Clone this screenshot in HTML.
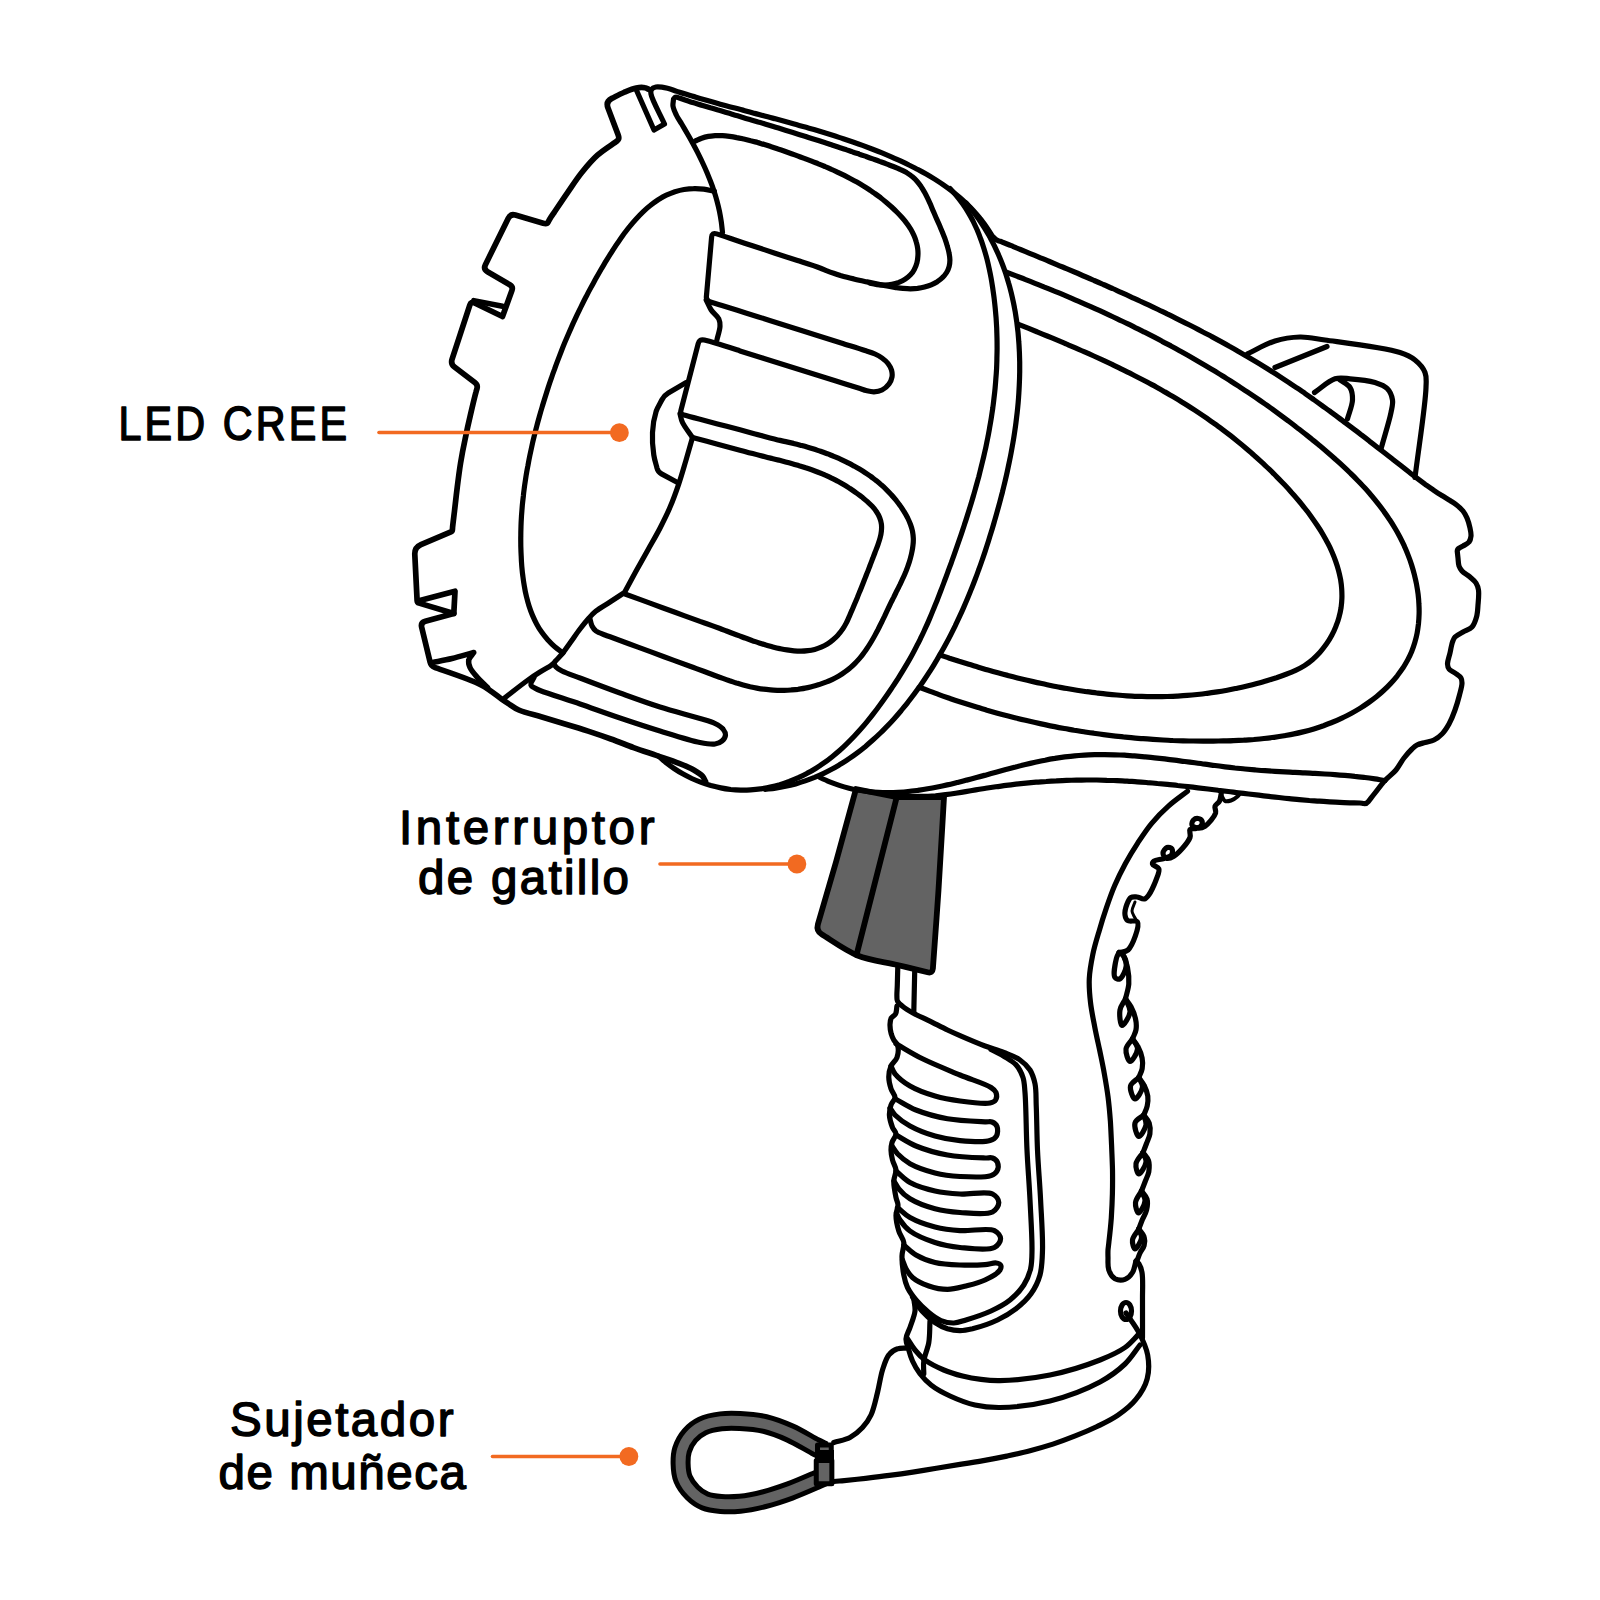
<!DOCTYPE html>
<html lang="es"><head><meta charset="utf-8"><title>Linterna recargable</title>
<style>
html,body{margin:0;padding:0;background:#fff}
body{width:1600px;height:1600px;overflow:hidden}
svg{display:block}
text{font-family:"Liberation Sans",sans-serif;fill:#000}
</style></head><body>
<svg width="1600" height="1600" viewBox="0 0 1600 1600">
<rect width="1600" height="1600" fill="#fff"/>
<g fill="none" stroke="#000" stroke-width="5.2" stroke-linecap="round" stroke-linejoin="round">
<path d="M856 789L896 797L944 797C942.2 828 940.4 860.3 938.5 890C936.7 917.3 933.6 958 932.9 968.5Q932.5 973.5 927.6 972.3C921.9 970.9 908.3 967.6 897.5 965C885.1 962 870.1 960.6 857.5 955.5C844.9 950.4 828.9 938.6 822 934.6Q816 931 817.9 924.3L836 862Z" fill="#636363" stroke="#000" stroke-width="5.8"/>
<path d="M896.5 798L856.5 955" fill="none" stroke="#000" stroke-width="5.8"/>
<path d="M648.8 89.4C647.5 88.8 646.6 88.1 645 87.8C642.7 87.3 639.4 87.4 636.2 88C632.4 88.7 627.8 90.8 623.8 92.5C619.7 94.2 615.1 96.8 611.8 98.4Q605.5 101.5 608 108L618.1 134.8Q619.5 138.5 618.2 139.8C617.8 140.2 617.7 140.4 617 141C614.4 143.2 603.4 149.8 597.5 155.2C591.5 160.5 586.4 166.8 581.4 173C576.4 179.3 572 186.2 567.4 192.8C562.8 199.4 557.2 207.9 553.9 212.8C552 215.6 550.5 217.8 549.5 219.5C548.9 220.5 548.7 221.1 548.2 221.9Q547 224.3 543.2 223.2L515.3 215.1Q510.5 213.7 508.3 218.2L485.4 264.7Q483.2 269.2 487.5 271.7L509.8 284.8Q513.3 286.8 511.9 290.6L502.5 316.5L474.6 303Q471 301.3 469.8 305.1L452.1 359.2Q450.5 364 454.5 367L474.8 382.6Q478 385 477 388.5C476.7 389.7 476.4 390.3 476 392C474.8 396.4 472.1 407.7 470.3 415.5C468.4 423.4 466.7 431.3 465.1 439.2C463.4 447.1 461.9 455 460.6 462.9C459.3 470.9 458.3 478.9 457.3 486.9C456.3 494.9 455.3 503.8 454.5 511C453.8 516.9 452.9 523.9 452.6 527C452.5 528.3 452.5 528.9 452.4 529.7Q452.3 531.2 450.9 531.8L420.9 544.6Q414.5 547.4 414.8 554.4L417.1 600.5Q417.2 602.5 419.1 603.1L453.8 613.5L425.3 621.2Q420.5 622.5 421.7 627.4L430.1 662.1Q431 666 434.7 667.4C441.6 670 469.2 678.7 481.2 685C489.8 689.5 497.8 696.5 501.7 699.2Q505 701.5 508.4 703.6C510.9 705.2 514.5 708.1 518.8 710C524.8 712.7 534.2 714.7 541.9 717C549.6 719.3 557.3 721.6 565 724C572.7 726.3 580.4 728.6 588.1 731.1C595.7 733.6 603.3 736.2 610.9 739C618.5 741.7 625.9 744.8 633.5 747.6C641 750.3 648.7 752.8 656.3 755.4C663.9 758 672.4 760.7 679.1 763.3C684.6 765.5 689.6 767.6 693.8 770C697.2 772 700.5 774 702.5 776.2C704 777.9 704.5 779.8 705.5 781.5" fill="none" stroke="#000" stroke-width="5.7"/>
<path d="M473.8 300.6L502.5 306.2" fill="none" stroke="#000" stroke-width="5.5"/>
<path d="M418 601L455 591.2L453.8 613.5" fill="none" stroke="#000" stroke-width="5.7"/>
<path d="M432.5 662.5C439 661.2 445.3 660.1 452 658.5C459.1 656.8 466.5 654.5 473.8 652.5C472.1 655 469.3 657.4 468.8 660C468.2 662.4 468.9 665 470 667.5C471.4 670.8 474.7 674.3 477.5 677.5C480.5 680.9 484.2 684.2 487.5 687.5" fill="none" stroke="#000" stroke-width="5.5"/>
<path d="M636.8 91L654 130L664.5 124C660 114 651.9 99.7 651 94C650.7 91.9 650.7 90.7 651.5 89.5C652.3 88.3 654.1 87.4 656 87C658.9 86.4 663.9 87.5 667.5 88.3C670.8 89 673.8 90.4 676.9 91.4C680.1 92.4 683.2 93.4 686.4 94.3C689.6 95.3 692.8 96.3 696 97.2C699.2 98.2 702.4 99.1 705.6 100C708.9 101 712.1 101.9 715.4 102.8C718.6 103.7 721.9 104.6 725.1 105.5C728.4 106.4 731.7 107.2 734.9 108.1C738.2 109 741.5 109.9 744.8 110.7C748.1 111.6 751.4 112.5 754.7 113.4C758 114.2 761.3 115.1 764.6 116C767.9 116.9 771.2 117.8 774.5 118.6C777.8 119.5 781.1 120.4 784.4 121.3C787.7 122.2 791 123.1 794.2 124C797.5 124.9 800.8 125.9 804.1 126.8C807.4 127.7 810.7 128.7 814 129.6C817.2 130.6 820.5 131.6 823.8 132.6C827 133.6 830.3 134.6 833.5 135.6C836.8 136.6 840 137.7 843.2 138.7C846.5 139.8 849.7 140.9 852.9 142C856.1 143.1 859.3 144.2 862.5 145.4C865.6 146.6 868.8 147.8 872 149C875.1 150.2 878.2 151.4 881.4 152.7C884.5 154 887.6 155.3 890.7 156.6C893.7 157.9 896.8 159.3 899.9 160.7C902.9 162.1 905.9 163.5 908.9 165C911.9 166.4 914.9 168 917.9 169.5C920.8 171.1 923.7 172.7 926.6 174.3C929.5 176 932.3 177.7 935.1 179.4C937.9 181.2 940.7 183 943.4 184.9C946.1 186.8 948.8 188.7 951.4 190.7C954.1 192.7 956.6 194.8 959.2 197C961.7 199.1 964.1 201.4 966.5 203.7C968.9 206 971.3 208.4 973.5 210.8C975.8 213.3 978 215.9 980.1 218.5C982.3 221.1 984.3 223.9 986.3 226.7C988.3 229.6 990.5 233.6 992 235.5C992.8 236.5 993.3 237 994 237.8Q996 240 998.8 240.9C999.9 241.3 1000.7 241.5 1002 242C1004.3 242.8 1008.1 244.5 1011.2 245.7C1014.3 247 1017.3 248.3 1020.4 249.5C1023.5 250.8 1026.5 252 1029.6 253.3C1032.7 254.6 1035.7 255.8 1038.8 257.1C1041.9 258.4 1045 259.6 1048 260.9C1051.1 262.2 1054.2 263.5 1057.3 264.8C1060.3 266.1 1063.4 267.3 1066.5 268.6C1069.5 269.9 1072.6 271.2 1075.7 272.5C1078.8 273.8 1081.8 275.2 1084.9 276.5C1088 277.8 1091 279.1 1094.1 280.5C1097.2 281.8 1100.2 283.1 1103.3 284.5C1106.4 285.8 1109.4 287.2 1112.5 288.5C1115.5 289.9 1118.6 291.2 1121.6 292.6C1124.7 294 1127.7 295.4 1130.8 296.8C1133.8 298.2 1136.9 299.5 1139.9 301C1142.9 302.4 1146 303.8 1149 305.2C1152 306.6 1155.1 308.1 1158.1 309.5C1161.1 311 1164.1 312.4 1167.1 313.9C1170.1 315.3 1173.1 316.8 1176.1 318.3C1179.1 319.8 1182.1 321.3 1185.1 322.8C1188.1 324.3 1191 325.8 1194 327.3C1197 328.9 1199.9 330.4 1202.9 332C1205.9 333.5 1208.8 335.1 1211.8 336.6C1214.7 338.2 1217.6 339.8 1220.6 341.4C1223.5 343 1226.4 344.6 1229.3 346.3C1232.2 347.9 1235.1 349.5 1238 351.2C1240.9 352.9 1243.8 354.5 1246.7 356.2C1249.5 357.9 1252.4 359.6 1255.2 361.3C1258.1 363 1260.9 364.7 1263.8 366.5C1266.6 368.2 1269.4 370 1272.2 371.8C1275.1 373.5 1277.9 375.3 1280.6 377.1C1283.4 379 1286.2 380.8 1289 382.6C1291.7 384.5 1294.5 386.3 1297.3 388.2C1300 390 1302.7 391.9 1305.5 393.8C1308.2 395.7 1310.9 397.6 1313.6 399.5C1316.3 401.5 1319 403.4 1321.7 405.3C1324.4 407.3 1327.1 409.2 1329.8 411.2C1332.5 413.2 1335.2 415.1 1337.8 417.1C1340.5 419.1 1343.2 421.1 1345.8 423.1C1348.5 425.1 1351.1 427.1 1353.8 429.1C1356.4 431.1 1359.1 433.1 1361.7 435.2C1364.4 437.2 1367 439.2 1369.6 441.3C1372.3 443.3 1374.9 445.3 1377.5 447.4C1380.1 449.4 1382.8 451.5 1385.4 453.5C1388 455.6 1390.6 457.6 1393.3 459.7C1395.9 461.7 1398.5 463.8 1401.1 465.8C1403.7 467.9 1406.4 470 1409 472C1411.6 474 1414.2 476.1 1416.9 478.1C1419.6 480.1 1422.2 482.1 1424.9 484.1C1427.6 486 1430.3 488 1433.1 489.8C1435.8 491.7 1438.6 493.6 1441.4 495.3C1444.2 497.1 1447.4 498.9 1450 500.5C1452.2 501.9 1454 502.9 1456 504.5C1458.3 506.3 1461.1 508.6 1463 511C1464.7 513.2 1465.9 515.4 1467 518C1468.3 521 1469.3 524.8 1470 528C1470.6 530.8 1471.2 533.5 1471 536C1470.8 538.2 1470.3 540.4 1469 542C1467.7 543.7 1464.8 544.9 1463 546C1461.6 546.8 1460.3 547.5 1459.2 548.1Q1457 549.3 1457.3 551.8C1457.5 553.4 1457.7 555.8 1458 558C1458.3 560.5 1458.2 563.7 1459 566C1459.7 567.9 1460.6 569.4 1462 571C1463.9 573.1 1467.6 574.9 1470 577C1472.2 578.9 1474.6 580.7 1476 583C1477.3 585.1 1478.1 587.2 1478.5 590C1479.1 594 1478.4 600.3 1478 605C1477.7 609.2 1477.6 613.3 1476.5 617C1475.5 620.6 1474.3 624.5 1472 627C1469.8 629.4 1465.9 630.3 1463 632C1460.2 633.6 1456.8 635.1 1455 637C1453.6 638.5 1453.2 640 1452.5 642C1451.5 644.9 1450.8 649.3 1450 653C1449.2 656.7 1447.4 661.1 1447.5 664C1447.6 666 1447.9 667.6 1449 669C1450.2 670.7 1453 671.5 1455 673C1457 674.5 1459.9 676.1 1461 678C1461.9 679.5 1462 681 1462 683C1462 686.1 1460.6 690.8 1459.5 695C1458.3 699.7 1456.8 705.1 1455 710C1453.3 714.8 1451.3 719.8 1449 724C1446.9 727.7 1444.7 731.3 1442 734C1439.6 736.5 1436.9 738.6 1434 740C1431.2 741.4 1427.9 741.6 1425 742.5C1422.2 743.3 1419.3 743.8 1417 745C1415 746.1 1413.8 747.3 1412 749C1409.6 751.3 1406.6 754.7 1404 758C1401.2 761.6 1399.1 766.3 1396 770C1392.8 773.8 1388.5 776.7 1385 780.5C1381.4 784.4 1378 789.2 1375 793C1372.5 796.1 1369.9 799.6 1368.3 801.6Q1366.5 804 1363.5 803.5C1362.4 803.4 1361.5 803.1 1360 803C1357.5 802.8 1353.2 802.9 1349.9 802.8C1346.5 802.7 1343.1 802.6 1339.7 802.4C1336.4 802.3 1333 802.1 1329.6 801.9C1326.2 801.7 1322.8 801.5 1319.5 801.2C1316.1 801 1312.7 800.7 1309.3 800.5C1306 800.2 1302.6 799.9 1299.2 799.6C1295.8 799.3 1292.4 798.9 1289.1 798.6C1285.7 798.3 1282.3 797.9 1278.9 797.5C1275.6 797.2 1272.2 796.8 1268.8 796.4C1265.4 796 1262.1 795.6 1258.7 795.2C1255.3 794.8 1251.9 794.4 1248.6 794C1245.2 793.6 1241.8 793.2 1238.4 792.8C1235 792.4 1231.7 791.9 1228.3 791.5C1224.9 791.1 1221.5 790.7 1218.2 790.3C1214.8 789.8 1211.4 789.4 1208 789C1204.7 788.6 1201.3 788.2 1197.9 787.8C1194.5 787.4 1191.2 787 1187.8 786.6C1184.4 786.2 1181 785.8 1177.7 785.5C1174.3 785.1 1170.9 784.8 1167.5 784.4C1164.2 784.1 1160.8 783.8 1157.4 783.5C1154.1 783.1 1150.7 782.8 1147.3 782.6C1143.9 782.3 1140.6 782 1137.2 781.8C1133.8 781.6 1130.4 781.3 1127.1 781.1C1123.7 780.9 1120.3 780.8 1117 780.6C1113.6 780.5 1110.2 780.3 1106.8 780.3C1103.5 780.2 1100.1 780.1 1096.7 780C1093.4 780 1090 780 1086.6 780C1083.2 780 1079.9 780.1 1076.5 780.1C1073.1 780.2 1069.8 780.3 1066.4 780.4C1063 780.5 1059.7 780.7 1056.3 780.9C1052.9 781 1049.6 781.2 1046.2 781.5C1042.8 781.7 1039.5 782 1036.1 782.2C1032.7 782.5 1029.4 782.8 1026 783.1C1022.6 783.5 1019.3 783.8 1015.9 784.2C1012.6 784.6 1009.2 785 1005.9 785.4C1002.5 785.9 999.1 786.3 995.8 786.8C992.4 787.3 989.1 787.8 985.7 788.3C982.4 788.8 979 789.3 975.7 789.9C972.3 790.5 969 791 965.6 791.6C962.3 792.2 959 792.7 955.6 793.2C952.3 793.8 948.9 794.3 945.5 794.7C942.2 795.1 938.8 795.5 935.5 795.8C932.1 796 928.7 796.3 925.4 796.4C922 796.4 918.6 796.5 915.2 796.3C911.8 796.2 908.4 795.8 905 795.5" fill="none" stroke="#000" stroke-width="5.2"/>
<path d="M1385 780.5C1381.6 780 1378.3 779.4 1374.9 778.9C1371.6 778.4 1368.2 777.9 1364.9 777.5C1361.5 777.1 1358.2 776.7 1354.8 776.4C1351.5 776 1348.2 775.7 1344.8 775.4C1341.5 775.2 1338.1 774.9 1334.8 774.7C1331.5 774.4 1328.2 774.2 1324.8 774C1321.5 773.8 1318.2 773.6 1314.9 773.4C1311.5 773.2 1308.2 773.1 1304.9 772.9C1301.6 772.7 1298.3 772.6 1294.9 772.4C1291.6 772.2 1288.3 772.1 1285 771.9C1281.6 771.7 1278.3 771.5 1275 771.3C1271.7 771.1 1268.4 770.9 1265 770.7C1261.7 770.5 1258.4 770.2 1255 769.9C1251.7 769.6 1248.4 769.3 1245 769C1241.7 768.7 1238.4 768.3 1235 768C1231.7 767.6 1228.3 767.2 1225 766.8C1221.6 766.4 1218.3 766 1215 765.5C1211.6 765.1 1208.3 764.6 1204.9 764.2C1201.6 763.8 1198.2 763.3 1194.8 762.8C1191.5 762.4 1188.1 761.9 1184.8 761.5C1181.4 761.1 1178.1 760.6 1174.7 760.2C1171.4 759.8 1168 759.3 1164.7 758.9C1161.3 758.5 1158 758.2 1154.6 757.8C1151.3 757.4 1147.9 757.1 1144.6 756.8C1141.2 756.5 1137.9 756.2 1134.5 755.9C1131.2 755.7 1127.9 755.4 1124.5 755.2C1121.2 755.1 1117.9 754.9 1114.5 754.8C1111.2 754.7 1107.9 754.6 1104.5 754.6C1101.2 754.6 1097.9 754.6 1094.6 754.7C1091.2 754.8 1087.9 754.9 1084.6 755.1C1081.3 755.3 1078 755.5 1074.7 755.8C1071.4 756.1 1068.1 756.5 1064.8 756.9C1061.5 757.3 1058.2 757.8 1054.9 758.4C1051.6 758.9 1048.3 759.5 1045.1 760.2C1041.8 760.8 1038.5 761.5 1035.2 762.2C1031.9 763 1028.7 763.7 1025.4 764.5C1022.1 765.3 1018.9 766.1 1015.6 767C1012.3 767.8 1009.1 768.7 1005.8 769.5C1002.6 770.4 999.3 771.3 996 772.2C992.8 773.1 989.5 774 986.3 774.9C983 775.8 979.8 776.7 976.5 777.5C973.3 778.4 970 779.3 966.7 780.1C963.5 781 960.2 781.8 957 782.6C953.7 783.4 950.5 784.2 947.2 784.9C943.9 785.6 940.7 786.3 937.4 787C934.1 787.7 930.9 788.3 927.6 788.8C924.3 789.4 921.1 789.9 917.8 790.4C914.5 790.8 911.3 791.2 908 791.5C904.7 791.9 901.4 792.1 898.1 792.3C894.9 792.5 891.6 792.6 888.3 792.6C885 792.6 881.7 792.6 878.5 792.4C875.2 792.2 871.9 792 868.7 791.6C865.4 791.3 862.1 790.8 858.9 790.2C855.6 789.7 852.3 789 849.1 788.2C845.8 787.4 842.6 786.5 839.3 785.4C836.1 784.3 832.9 783.2 829.7 781.9C826.4 780.5 823.2 779 820 777.5" fill="none" stroke="#000" stroke-width="5.2"/>
<path d="M722.5 232.5C722.1 229 721.8 225.4 721.3 221.9C720.8 218.4 720.2 214.9 719.5 211.4C718.8 208 717.9 204.5 717 201.1C716.1 197.7 715.1 194.3 714 191C712.9 187.6 711.7 184.3 710.4 181C709.1 177.7 707.8 174.4 706.4 171.2C705 167.9 703.5 164.7 702 161.5C700.5 158.3 698.9 155.1 697.3 151.9C695.7 148.7 694 145.6 692.3 142.5C690.6 139.4 688.8 136.3 687.1 133.2C685.3 130.1 683.5 127.1 681.7 124C679.9 121 677.7 118.1 676.3 115C674.9 112.1 673.4 108.8 673 106.2C672.7 104.3 673.2 102.7 673.3 101Q673.5 96 678.2 97.6C681.3 98.7 686.6 100.6 690 101.7C692.6 102.5 694.5 103 696.8 103.7C699 104.4 701.3 105.1 703.6 105.7C705.8 106.4 708.1 107.1 710.4 107.8C712.6 108.4 714.9 109.1 717.2 109.8C719.4 110.4 721.7 111.1 724 111.8C726.3 112.5 728.5 113.1 730.8 113.8C733.1 114.5 735.3 115.2 737.6 115.8C739.9 116.5 742.2 117.2 744.4 117.9C746.7 118.6 749 119.2 751.3 119.9C753.5 120.6 755.8 121.3 758.1 122C760.4 122.6 762.6 123.3 764.9 124C767.2 124.7 769.5 125.4 771.7 126.1C774 126.8 776.3 127.5 778.5 128.1C780.8 128.8 783.1 129.5 785.3 130.2C787.6 130.9 789.9 131.6 792.1 132.3C794.4 133 796.7 133.7 798.9 134.4C801.2 135.1 803.4 135.8 805.7 136.5C807.9 137.3 810.2 138 812.5 138.7C814.7 139.4 817 140.1 819.2 140.8C821.4 141.6 823.7 142.3 825.9 143C828.2 143.7 830.4 144.5 832.6 145.2C834.9 145.9 837.1 146.7 839.3 147.4C841.6 148.1 843.8 148.9 846 149.6C848.2 150.4 850.5 151.1 852.7 151.9C854.9 152.6 857.1 153.4 859.4 154.2C861.6 154.9 863.8 155.7 866.1 156.5C868.3 157.3 870.5 158.1 872.8 158.9C875 159.7 877.3 160.5 879.6 161.4C881.8 162.2 884.1 163 886.4 163.9C888.7 164.8 891 165.6 893.3 166.5C895.6 167.4 897.9 168.3 900.1 169.4C902.3 170.4 904.5 171.4 906.6 172.6C908.5 173.8 910.5 175.1 912.2 176.6C913.9 178 915.5 179.6 917 181.3C918.5 183 919.8 184.8 921.1 186.6C922.4 188.5 923.5 190.5 924.7 192.5C925.8 194.5 926.8 196.6 927.8 198.7C928.8 200.9 929.8 203 930.8 205.2C931.7 207.4 932.6 209.7 933.6 211.9C934.6 214.1 935.5 216.4 936.5 218.6C937.5 220.8 938.5 223 939.5 225.3C940.4 227.5 941.4 229.8 942.3 232C943.2 234.3 944.1 236.6 945 238.8C945.8 241.1 946.6 243.5 947.2 245.8C947.9 248.2 948.6 250.5 949 252.9C949.5 255.3 949.9 257.7 949.9 260C949.9 262.3 949.7 264.6 949.1 266.7C948.6 268.7 947.7 270.7 946.6 272.5C945.5 274.3 944.1 276 942.5 277.5C941 279.1 939.2 280.4 937.3 281.7C935.4 282.9 933.3 284 931.2 284.9C929 285.8 926.8 286.5 924.5 287.1C922.2 287.7 919.9 288.1 917.5 288.4C915.1 288.6 912.7 288.7 910.3 288.8C907.9 288.8 905.5 288.6 903.1 288.4C900.6 288.2 898.2 287.9 895.7 287.6C893.3 287.2 890.8 286.8 888.4 286.3C886 285.9 883.6 285.4 881.2 284.9C878.8 284.4 876.4 283.9 874.1 283.4C871.7 282.9 869.4 282.4 867.1 281.9C864.9 281.4 862.6 281 860.4 280.5C858.1 280 855.9 279.5 853.7 278.9C851.5 278.4 849.3 277.9 847.1 277.3C844.9 276.7 842.6 276.1 840.4 275.5C838.2 274.8 836 274.1 833.7 273.3C831.5 272.6 829.2 271.8 827 270.9C824.6 270 823 269.1 820 268C814.7 266 805 263 797.5 260.6C790 258.1 782.5 255.6 775 253.2C767.5 250.7 760 248.2 752.5 245.7C745 243.3 736.5 240.5 730 238.3C725 236.6 720.1 235 716.7 233.9Q712 232.3 711.6 237.3L706.4 296.5Q706 300.5 709.8 301.7C712.7 302.6 717.3 303.9 722 305.4C728.6 307.5 737.9 310.4 745.8 312.9C753.8 315.4 761.7 317.9 769.7 320.4C777.6 322.9 785.6 325.4 793.5 327.9C801.4 330.5 809.4 333 817.3 335.5C825.3 338 833.2 340.5 841.2 343C849.1 345.5 858.8 348.4 865 350.5C869.1 351.8 872 352.6 875 354C877.6 355.2 879.8 356.4 882 358C884.2 359.6 886.4 361.4 888 363.5C889.5 365.5 890.8 367.7 891.5 370C892.1 372.2 892.4 374.7 892 377C891.6 379.4 890.5 381.9 889 384C887.3 386.3 884.6 388.7 882 390C879.6 391.2 876.7 391.7 874 391.8C871.3 391.9 868.5 391.1 866 390.5C863.8 390 862.7 389.4 860 388.6C854.7 386.9 844 383.6 836 381.1C828 378.5 820 376 812 373.5C804 371 796 368.5 788 366C780 363.4 772 360.9 764 358.4C756 355.9 748 353.4 740 350.9C732 348.3 722.6 345.2 716 343.3C711.4 342 707.4 340.9 704.3 340.1Q699.5 338.8 698.2 343.6L681 410.1Q680 414 683.9 415C687.4 416 693.9 417.7 700 419.3C707.8 421.4 717.8 424 726.7 426.3C735.6 428.7 744.4 431 753.3 433.4C762.2 435.7 774 439 780 440.4C783 441.1 784.5 441.4 786.7 441.9C789 442.4 791.2 442.9 793.5 443.4C795.8 444 798 444.6 800.3 445.2C802.5 445.8 804.8 446.4 807.1 447.1C809.3 447.7 811.6 448.4 813.8 449.1C816.1 449.8 818.3 450.6 820.5 451.3C822.8 452.1 825 452.9 827.2 453.7C829.4 454.6 831.6 455.4 833.8 456.3C836 457.2 838.1 458.2 840.3 459.1C842.4 460.1 844.5 461.1 846.6 462.1C848.7 463.2 850.8 464.2 852.9 465.4C854.9 466.5 857 467.6 859 468.8C861 470 863 471.2 864.9 472.5C866.9 473.8 868.8 475.1 870.7 476.4C872.5 477.8 874.4 479.2 876.2 480.6C878 482.1 879.8 483.6 881.5 485.1C883.3 486.6 885 488.2 886.6 489.8C888.3 491.5 889.9 493.1 891.4 494.9C893 496.6 894.5 498.4 896 500.2C897.4 502 898.9 503.9 900.2 505.8C901.6 507.7 902.9 509.7 904.1 511.7C905.4 513.8 906.6 515.9 907.7 518C908.7 520.1 909.7 522.3 910.5 524.5C911.3 526.7 912 528.9 912.5 531.2C912.9 533.5 913.2 535.8 913.3 538.1C913.4 540.4 913.3 542.7 913 545C912.8 547.3 912.4 549.7 911.9 551.9C911.5 554.2 910.9 556.4 910.3 558.6C909.7 560.9 909 563.1 908.2 565.2C907.5 567.4 906.6 569.6 905.8 571.7C904.9 573.8 904 576 903 578.1C902.1 580.2 901.1 582.3 900.1 584.4C899 586.5 898 588.6 896.9 590.7C895.9 592.8 894.8 594.9 893.8 597.1C892.7 599.2 891.7 601.3 890.6 603.4C889.6 605.6 888.6 607.7 887.5 609.9C886.5 612 885.5 614.2 884.5 616.3C883.4 618.5 882.4 620.6 881.4 622.8C880.3 624.9 879.3 627 878.2 629.2C877.1 631.3 876 633.3 874.9 635.4C873.8 637.5 872.6 639.5 871.4 641.5C870.2 643.5 869 645.5 867.7 647.4C866.5 649.3 865.2 651.2 863.8 653C862.5 654.9 861.1 656.7 859.6 658.4C858.1 660.1 856.6 661.8 855 663.4C853.4 665 851.8 666.6 850 668C848.3 669.5 846.5 670.9 844.6 672.2C842.7 673.6 840.8 674.8 838.8 676C836.7 677.2 834.6 678.3 832.5 679.3C830.4 680.3 828.2 681.3 825.9 682.1C823.7 683 821.4 683.8 819.1 684.6C816.8 685.3 814.5 686 812.2 686.5C809.8 687.1 807.5 687.7 805.1 688.1C802.8 688.6 800.4 688.9 798.1 689.3C795.8 689.6 793.4 689.8 791.1 690C788.8 690.2 786.5 690.3 784.2 690.3C781.9 690.4 779.6 690.4 777.3 690.3C775 690.2 772.7 690.1 770.4 689.9C768.1 689.7 765.8 689.5 763.6 689.2C761.3 688.9 759 688.5 756.8 688.1C754.5 687.7 752.2 687.2 750 686.7C747.7 686.1 745.4 685.5 743.2 684.9C740.9 684.3 738.6 683.6 736.4 683C734.1 682.3 731.9 681.5 729.6 680.8C727.4 680 725.1 679.2 722.9 678.4C720.7 677.6 718.4 676.8 716.2 676C714 675.2 711.8 674.3 709.6 673.5C707.4 672.7 705.2 671.8 703 671C700.8 670.2 698.6 669.4 696.4 668.6C694.3 667.8 692.9 667.3 690 666.3C684.2 664.2 672.7 659.9 664 656.7C655.3 653.5 646.7 650.3 638 647.1C629.3 643.9 617.9 639.7 612 637.5C608.9 636.4 607.5 636 605 635C602.2 633.9 598.3 632.7 596 631C594.2 629.6 593 627.9 592 626C590.9 624 590.7 621.3 590 619" fill="none" stroke="#000" stroke-width="5.2"/>
<path d="M625 594C625 594 625 594 625 594C625 594 641.7 600.1 650 603.1C658.3 606.2 666.7 609.2 675 612.3C683.3 615.3 694.3 619.4 700 621.4C703 622.4 704.5 622.9 706.8 623.7C709 624.5 711.2 625.3 713.4 626.1C715.6 626.9 717.8 627.7 720 628.5C722.2 629.3 724.4 630.2 726.5 631C728.7 631.8 730.8 632.7 733 633.5C735.2 634.3 737.3 635.1 739.5 635.9C741.6 636.7 743.8 637.6 746 638.3C748.2 639.1 750.3 639.9 752.5 640.7C754.7 641.4 756.9 642.2 759.2 642.9C761.4 643.6 763.6 644.3 765.9 645C768.2 645.6 770.5 646.3 772.8 646.9C775.1 647.5 777.5 648.1 779.8 648.6C782.2 649.1 784.5 649.6 786.9 649.9C789.3 650.3 791.6 650.6 794 650.8C796.3 651 798.7 651.1 801 651.1C803.3 651.1 805.7 650.9 807.9 650.6C810.2 650.4 812.5 650 814.7 649.4C816.9 648.8 819.1 648 821.2 647.1C823.3 646.2 825.4 645.1 827.4 643.9C829.4 642.7 831.3 641.3 833.1 639.7C834.9 638.2 836.7 636.6 838.2 634.8C839.8 633.1 841.3 631.2 842.6 629.2C843.9 627.3 845.1 625.2 846.2 623.1C847.3 621 848.2 618.8 849.2 616.7C850.1 614.5 851 612.4 852 610.2C852.9 608.1 853.8 605.9 854.7 603.8C855.6 601.6 856.5 599.5 857.4 597.4C858.2 595.2 859.1 593.1 860 590.9C860.9 588.8 861.7 586.7 862.6 584.5C863.4 582.4 864.3 580.2 865.1 578.1C866 575.9 866.8 573.7 867.7 571.5C868.5 569.4 869.4 567.2 870.2 565C871.1 562.8 871.9 560.6 872.8 558.3C873.6 556.1 874.5 553.9 875.3 551.6C876.2 549.3 877.1 547.1 877.9 544.8C878.7 542.5 879.5 540.2 880.1 537.9C880.7 535.6 881.2 533.3 881.4 531C881.6 528.8 881.7 526.5 881.4 524.2C881.1 522 880.5 519.8 879.7 517.8C878.9 515.7 877.8 513.7 876.5 511.8C875.3 509.8 873.8 508 872.2 506.3C870.6 504.6 868.8 503 867.1 501.4C865.3 499.8 863.4 498.3 861.6 496.8C859.7 495.4 857.8 493.9 855.9 492.6C854 491.2 852 489.8 850 488.5C848.1 487.3 846.1 486 844 484.8C842 483.6 840 482.4 837.9 481.3C835.8 480.2 833.8 479.1 831.6 478.1C829.6 477.1 827.4 476.1 825.3 475.2C823.2 474.2 821 473.3 818.9 472.5C816.7 471.6 814.5 470.8 812.3 470C810.1 469.2 807.9 468.5 805.7 467.8C803.5 467 801.3 466.3 799.1 465.7C796.8 465 794.6 464.3 792.3 463.7C790.1 463.1 787.8 462.5 785.6 461.9C783.3 461.3 781 460.7 778.7 460.1C776.5 459.6 774.2 459 771.9 458.4C769.6 457.9 768 457.6 765 456.8C759.4 455.4 748.9 452.5 740.8 450.4C732.8 448.2 724.7 446.1 716.7 443.9C708.6 441.8 692.5 437.5 692.5 437.5C692.5 437.5 692.5 437.5 692.5 437.5C689.2 432.5 684.6 427 682.5 422.5C681 419.3 680.8 416.7 680 413.8" fill="none" stroke="#000" stroke-width="5.2"/>
<path d="M695 141.2C697.2 140.2 699.4 139 701.6 138.2C703.8 137.4 706.1 136.8 708.4 136.4C710.7 136 713.1 135.8 715.4 135.6C717.8 135.5 720.2 135.6 722.5 135.7C724.9 135.8 727.3 136.1 729.6 136.4C732 136.7 734.4 137.1 736.7 137.6C739.1 138 741.4 138.5 743.8 139C746.1 139.5 748.4 140.1 750.7 140.7C753 141.2 755.3 141.9 757.6 142.5C759.9 143.2 762.2 143.8 764.4 144.5C766.7 145.2 769 146 771.2 146.7C773.5 147.4 775.7 148.2 778 149C780.2 149.7 782.5 150.5 784.7 151.3C787 152.1 789.2 152.9 791.5 153.7C793.7 154.5 796 155.3 798.2 156.1C800.4 157 802.7 157.8 804.9 158.6C807.1 159.5 809.4 160.3 811.6 161.2C813.8 162.1 816 162.9 818.3 163.8C820.5 164.7 822.7 165.6 824.9 166.5C827.1 167.5 829.2 168.4 831.4 169.4C833.6 170.3 835.7 171.3 837.9 172.3C840 173.3 842.2 174.4 844.3 175.4C846.4 176.5 848.5 177.6 850.6 178.7C852.7 179.8 854.8 180.9 856.9 182.1C858.9 183.3 860.9 184.5 863 185.7C865 186.9 867 188.2 869 189.5C870.9 190.8 872.9 192.1 874.8 193.5C876.8 194.9 878.7 196.3 880.6 197.7C882.5 199.2 884.3 200.7 886.1 202.2C888 203.8 889.8 205.4 891.6 207C893.3 208.6 895.1 210.3 896.8 212C898.5 213.7 900.2 215.5 901.8 217.3C903.4 219.1 905 221 906.4 222.9C907.9 224.8 909.2 226.8 910.5 228.8C911.7 230.9 912.8 233 913.8 235.1C914.8 237.2 915.6 239.5 916.2 241.7C916.9 244 917.4 246.4 917.7 248.7C918 251.1 918.1 253.5 917.9 255.9C917.8 258.3 917.5 260.6 916.9 262.9C916.3 265.1 915.5 267.3 914.4 269.3C913.4 271.3 912 273.2 910.5 274.8C908.9 276.5 907.1 277.9 905.2 279.2C903.3 280.5 901.1 281.5 898.9 282.4C896.7 283.2 894.3 283.9 891.9 284.3C889.4 284.7 886.9 284.9 884.4 285C881.9 285.1 879.4 284.9 877 284.6C874.6 284.3 872.3 283.7 870 283.3" fill="none" stroke="#000" stroke-width="5.2"/>
<path d="M706.2 300C707.9 303.3 709.2 306.9 711.2 310C713.3 313.2 717.3 315.7 718.8 318.8C719.9 321.2 720.1 323.4 720 326.2C719.9 330.2 717.9 335.4 716.9 340" fill="none" stroke="#000" stroke-width="5.2"/>
<path d="M692.5 437.5C690.3 445.3 688.1 453.1 685.8 460.9C683.5 468.6 681.3 476.4 678.7 484.1C676.1 491.7 673.4 499.4 670.2 506.8C667.1 514.3 663.4 521.5 659.7 528.7C656 535.9 651.8 542.9 647.9 549.9C644 557 640 564.1 636.1 571.1C632.2 578.2 624.5 592.5 624.5 592.5C624.5 592.5 624.5 592.5 624.5 592.5C619.7 595.7 614.8 598.9 610 602C605.3 605.1 599.7 608 596 611C593.1 613.3 591.4 615.3 589 618C586.1 621.2 583 625.1 580 629C576.7 633.3 573.2 638.6 570 643C567.2 646.9 564.6 650.9 562 654C559.9 656.5 557.6 658.7 556 660.5C554.9 661.7 554.1 662.7 553.3 663.5Q552 665 550.3 666C548.3 667.2 543.5 669.8 540 672C536.1 674.4 532.6 676.7 528 680C521.4 684.7 512.3 692 504.5 698" fill="none" stroke="#000" stroke-width="5.2"/>
<path d="M554 663.5C554.7 664.7 555 665.9 556 667C557.4 668.5 559.4 669.6 562 671C566.3 673.2 572.8 675.3 580 678C590.7 682.1 606.6 688.2 620 693C633.3 697.8 646.6 702.7 660 707C673.3 711.2 689.9 715.4 700 718.5C706.2 720.4 710.9 721.5 715 723.5C718.2 725.1 721.2 726.8 723 729C724.4 730.8 725.6 733 725.5 735C725.4 737 723.7 739.5 722 741C720.2 742.6 717.8 743.6 715 744C711 744.6 706.1 743.7 700 742.5C689.8 740.5 673.3 735.1 660 731C646.6 726.9 633.3 722.5 620 718C606.6 713.5 593.3 708.6 580 704C566.7 699.4 547.8 693.6 540 690.5C536.7 689.2 535 688.1 533.1 687.2Q529.5 685.5 531.5 682L534 677.5" fill="none" stroke="#000" stroke-width="5.2"/>
<path d="M686.2 382.5L668.3 393Q664 395.5 661.8 400C660.4 402.9 657.7 406.8 656.2 411.2C654.3 417.1 652.9 425.3 652.5 432.5C652.1 439.9 652.8 448.5 653.8 455C654.5 460 656.3 465 657 468.1Q658 472 661.5 473.9L677.5 482.5" fill="none" stroke="#000" stroke-width="5.2"/>
<path d="M714.4 191.2C710.8 190.5 707.2 189.6 703.7 189.1C700.3 188.7 696.9 188.5 693.6 188.6C690.3 188.6 687.1 189 684 189.5C680.9 190 677.9 190.8 674.9 191.7C672 192.7 669.1 193.9 666.3 195.2C663.6 196.5 660.9 198.1 658.2 199.7C655.6 201.4 653 203.3 650.6 205.3C648 207.3 645.6 209.4 643.3 211.6C640.9 213.9 638.6 216.3 636.4 218.7C634.1 221.2 631.9 223.8 629.8 226.4C627.6 229 625.6 231.8 623.5 234.5C621.5 237.3 619.5 240.2 617.6 243.1C615.6 245.9 613.7 248.9 611.8 251.8C610 254.7 608.1 257.7 606.3 260.7C604.5 263.6 602.8 266.6 601 269.5C599.3 272.5 597.6 275.5 595.9 278.4C594.3 281.4 592.6 284.4 591 287.4C589.4 290.3 587.8 293.3 586.3 296.3C584.7 299.3 583.2 302.3 581.7 305.3C580.2 308.3 578.8 311.3 577.3 314.3C575.9 317.3 574.5 320.3 573.1 323.4C571.8 326.4 570.4 329.4 569.1 332.5C567.8 335.5 566.5 338.6 565.2 341.6C563.9 344.7 562.7 347.7 561.5 350.8C560.3 353.9 559.1 357 557.9 360.1C556.7 363.1 555.6 366.2 554.5 369.4C553.3 372.5 552.2 375.6 551.2 378.7C550.1 381.8 549 385 548 388.1C547 391.3 546 394.4 545 397.6C544 400.8 543 404 542.1 407.1C541.1 410.3 540.2 413.5 539.3 416.8C538.4 420 537.5 423.2 536.7 426.4C535.8 429.7 535 432.9 534.2 436.2C533.4 439.4 532.6 442.7 531.9 446C531.2 449.2 530.5 452.5 529.8 455.8C529.1 459.1 528.5 462.4 527.9 465.7C527.2 469 526.7 472.3 526.1 475.6C525.6 478.9 525.1 482.2 524.6 485.6C524.2 488.9 523.7 492.2 523.4 495.6C523 498.9 522.6 502.3 522.3 505.6C522 509 521.8 512.3 521.5 515.7C521.3 519.1 521.1 522.4 521 525.8C520.9 529.2 520.8 532.5 520.8 535.9C520.7 539.3 520.8 542.7 520.8 546.1C520.9 549.4 521 552.8 521.2 556.2C521.3 559.6 521.5 563 521.8 566.4C522.1 569.8 522.4 573.1 522.9 576.5C523.3 579.9 523.8 583.2 524.4 586.5C524.9 589.8 525.6 593.1 526.4 596.4C527.2 599.6 528 602.8 529 605.9C530 609 531.1 612.1 532.4 615.1C533.7 618.1 535 621 536.6 623.9C538.1 626.7 539.8 629.5 541.6 632.1C543.5 634.8 545.5 637.3 547.7 639.8C549.9 642.2 552.2 644.6 554.8 646.8C557.3 649 560.3 650.9 563 653" fill="none" stroke="#000" stroke-width="5.2"/>
<path d="M950 188.5C952.2 191 954.6 193.5 956.7 196C958.9 198.6 960.9 201.3 962.8 204C964.7 206.7 966.5 209.5 968.2 212.4C969.9 215.2 971.5 218.1 973 221C974.4 224 975.8 227 977.2 230C978.5 233.1 979.7 236.1 980.8 239.3C982 242.4 983 245.5 984 248.7C985 251.9 985.9 255.1 986.8 258.4C987.6 261.6 988.4 264.9 989.1 268.2C989.8 271.4 990.5 274.8 991.1 278.1C991.7 281.4 992.2 284.7 992.7 288C993.2 291.4 993.7 294.7 994.1 298C994.5 301.4 994.9 304.7 995.2 308.1C995.5 311.4 995.8 314.7 996.1 318.1C996.3 321.4 996.5 324.8 996.7 328.1C996.8 331.5 996.9 334.8 997 338.2C997.1 341.5 997.1 344.9 997.1 348.2C997.1 351.6 997 354.9 996.9 358.2C996.9 361.6 996.7 364.9 996.6 368.3C996.4 371.6 996.2 374.9 995.9 378.2C995.7 381.6 995.4 384.9 995.1 388.2C994.8 391.5 994.4 394.8 994 398.1C993.7 401.4 993.2 404.8 992.8 408C992.3 411.3 991.8 414.6 991.3 417.9C990.8 421.2 990.2 424.5 989.6 427.8C989.1 431.1 988.4 434.3 987.8 437.6C987.1 440.9 986.5 444.1 985.8 447.4C985.1 450.6 984.3 453.9 983.6 457.1C982.8 460.4 982 463.6 981.2 466.9C980.4 470.1 979.6 473.4 978.8 476.6C977.9 479.8 977 483 976.1 486.3C975.2 489.5 974.3 492.7 973.4 495.9C972.4 499.1 971.5 502.3 970.5 505.5C969.5 508.7 968.5 511.9 967.5 515.1C966.5 518.3 965.5 521.5 964.4 524.7C963.4 527.9 962.3 531.1 961.3 534.2C960.2 537.4 959.1 540.6 958 543.7C956.9 546.9 955.8 550.1 954.7 553.2C953.6 556.4 952.4 559.5 951.3 562.7C950.1 565.8 949 568.9 947.8 572.1C946.7 575.2 945.5 578.4 944.3 581.5C943.2 584.6 942 587.7 940.8 590.8C939.6 594 938.4 597.1 937.2 600.2C935.9 603.3 934.7 606.3 933.4 609.4C932.2 612.5 930.9 615.6 929.6 618.6C928.3 621.7 927 624.7 925.6 627.7C924.2 630.7 922.8 633.8 921.4 636.7C919.9 639.7 918.5 642.7 916.9 645.6C915.4 648.6 913.9 651.5 912.3 654.4C910.7 657.3 909.1 660.2 907.4 663.1C905.7 666 904 668.8 902.3 671.7C900.6 674.5 898.8 677.3 897 680.2C895.2 683 893.4 685.8 891.5 688.5C889.6 691.3 887.7 694.1 885.8 696.8C883.9 699.6 881.9 702.3 879.9 705C877.9 707.8 875.9 710.5 873.8 713.1C871.8 715.8 869.7 718.4 867.5 721.1C865.4 723.7 863.2 726.3 861 728.8C858.8 731.3 856.5 733.8 854.2 736.3C851.9 738.7 849.6 741.1 847.2 743.4C844.8 745.8 842.4 748.1 839.9 750.3C837.4 752.5 834.8 754.6 832.2 756.7C829.6 758.8 827 760.8 824.3 762.7C821.6 764.6 818.8 766.5 816 768.2C813.2 770 810.3 771.7 807.3 773.2C804.4 774.8 801.4 776.3 798.4 777.7C795.4 779 792.3 780.3 789.2 781.5C786.1 782.6 783 783.7 779.8 784.7C776.6 785.6 773.4 786.4 770.2 787.1C767 787.9 763.7 788.4 760.5 788.9C757.2 789.4 753.9 789.7 750.6 789.9C747.3 790.1 744 790.2 740.7 790.1C737.4 790 734 789.8 730.7 789.5C727.4 789.1 724.1 788.6 720.8 787.9C717.5 787.3 714.2 786.5 710.9 785.6C707.6 784.6 704.4 783.6 701.2 782.4C698 781.2 694.9 779.9 691.8 778.5C688.7 777 685.7 775.5 682.7 773.8C679.8 772.2 676.9 770.4 674.1 768.5C671.4 766.7 668.7 764.7 666.1 762.7C663.6 760.6 661.2 758.4 658.7 756.3" fill="none" stroke="#000" stroke-width="5.2"/>
<path d="M966 203C968.2 205.7 970.5 208.3 972.6 211C974.8 213.8 976.8 216.5 978.8 219.3C980.7 222.1 982.6 225 984.4 227.9C986.2 230.7 987.9 233.7 989.6 236.6C991.2 239.6 992.8 242.5 994.3 245.6C995.7 248.6 997.1 251.6 998.5 254.7C999.8 257.7 1001.1 260.8 1002.3 264C1003.5 267.1 1004.6 270.2 1005.7 273.4C1006.7 276.6 1007.7 279.8 1008.6 283C1009.6 286.2 1010.4 289.4 1011.2 292.6C1012 295.9 1012.7 299.1 1013.4 302.4C1014.1 305.7 1014.7 309 1015.3 312.3C1015.8 315.6 1016.3 318.9 1016.8 322.2C1017.2 325.5 1017.6 328.8 1018 332.1C1018.3 335.5 1018.6 338.8 1018.8 342.1C1019.1 345.5 1019.2 348.8 1019.4 352.2C1019.5 355.5 1019.6 358.8 1019.7 362.2C1019.7 365.5 1019.7 368.9 1019.7 372.2C1019.6 375.6 1019.6 378.9 1019.4 382.2C1019.3 385.6 1019.1 388.9 1018.9 392.3C1018.7 395.6 1018.5 399 1018.2 402.3C1017.9 405.7 1017.6 409 1017.2 412.4C1016.8 415.7 1016.4 419.1 1016 422.4C1015.6 425.7 1015.1 429.1 1014.6 432.4C1014.1 435.8 1013.6 439.1 1013 442.4C1012.4 445.8 1011.8 449.1 1011.2 452.4C1010.6 455.8 1009.9 459.1 1009.2 462.4C1008.5 465.7 1007.8 469.1 1007.1 472.4C1006.4 475.7 1005.6 479 1004.8 482.3C1004 485.6 1003.2 488.9 1002.4 492.2C1001.5 495.5 1000.7 498.8 999.8 502.1C998.9 505.4 998 508.7 997.1 511.9C996.2 515.2 995.3 518.5 994.3 521.7C993.4 525 992.4 528.2 991.4 531.5C990.4 534.7 989.4 538 988.4 541.2C987.4 544.4 986.3 547.7 985.3 550.9C984.2 554.1 983.1 557.3 982 560.5C980.9 563.7 979.8 566.9 978.6 570C977.5 573.2 976.3 576.4 975.1 579.5C973.9 582.7 972.7 585.8 971.4 588.9C970.2 592.1 968.9 595.2 967.6 598.3C966.3 601.4 965 604.5 963.6 607.6C962.3 610.6 960.9 613.7 959.5 616.7C958.1 619.8 956.6 622.8 955.2 625.8C953.7 628.8 952.2 631.8 950.7 634.8C949.2 637.8 947.6 640.8 946 643.7C944.4 646.7 942.8 649.6 941.1 652.5C939.5 655.4 937.8 658.3 936.1 661.2C934.3 664.1 932.6 667 930.8 669.8C929 672.6 927.2 675.5 925.3 678.3C923.4 681.1 921.5 683.8 919.6 686.6C917.6 689.3 915.7 692.1 913.6 694.8C911.6 697.5 909.6 700.2 907.5 702.8C905.4 705.5 903.2 708.1 901.1 710.7C898.9 713.3 896.7 715.9 894.4 718.4C892.2 720.9 889.9 723.4 887.5 725.8C885.2 728.2 882.8 730.6 880.4 733C878 735.3 875.6 737.6 873.1 739.8C870.6 742 868.1 744.2 865.5 746.4C862.9 748.5 860.3 750.6 857.6 752.6C855 754.6 852.3 756.5 849.5 758.4C846.8 760.3 844 762.1 841.2 763.8C838.3 765.5 835.5 767.2 832.6 768.8C829.7 770.4 826.7 771.9 823.7 773.3C820.7 774.7 817.7 776.1 814.6 777.4C811.5 778.6 808.4 779.8 805.2 780.9C802 782 798.8 783 795.6 783.9C792.3 784.8 789 785.6 785.6 786.3C782.3 787 778.9 787.6 775.5 788.1C772 788.6 768.5 788.9 765 789.3" fill="none" stroke="#000" stroke-width="5.2"/>
<path d="M1006.5 272.3C1009.7 273.5 1012.9 274.7 1016.1 275.9C1019.2 277.1 1022.4 278.4 1025.6 279.6C1028.7 280.8 1031.9 282.1 1035 283.3C1038.2 284.5 1041.3 285.8 1044.4 287.1C1047.5 288.3 1050.7 289.6 1053.8 290.9C1056.9 292.1 1060 293.4 1063.1 294.7C1066.2 296 1069.3 297.3 1072.3 298.6C1075.4 300 1078.5 301.3 1081.5 302.6C1084.6 304 1087.6 305.3 1090.7 306.6C1093.7 308 1096.8 309.4 1099.8 310.7C1102.8 312.1 1105.8 313.5 1108.8 314.9C1111.8 316.3 1114.8 317.7 1117.8 319.1C1120.8 320.5 1123.8 322 1126.8 323.4C1129.8 324.8 1132.7 326.3 1135.7 327.8C1138.7 329.2 1141.6 330.7 1144.6 332.2C1147.5 333.7 1150.4 335.2 1153.4 336.7C1156.3 338.2 1159.2 339.7 1162.1 341.3C1165.1 342.8 1168 344.4 1170.9 345.9C1173.8 347.5 1176.6 349.1 1179.5 350.7C1182.4 352.3 1185.3 353.9 1188.2 355.5C1191 357.1 1193.9 358.8 1196.7 360.4C1199.6 362.1 1202.4 363.7 1205.3 365.4C1208.1 367.1 1210.9 368.8 1213.8 370.5C1216.6 372.2 1219.4 374 1222.2 375.7C1225 377.5 1227.8 379.2 1230.6 381C1233.4 382.8 1236.2 384.6 1239 386.4C1241.7 388.2 1244.5 390 1247.3 391.9C1250 393.7 1252.8 395.6 1255.5 397.4C1258.3 399.3 1261 401.2 1263.8 403.1C1266.5 405 1269.2 407 1272 408.9C1274.7 410.9 1277.4 412.8 1280.1 414.8C1282.8 416.8 1285.5 418.8 1288.2 420.8C1290.9 422.9 1293.6 424.9 1296.2 427C1298.9 429 1301.6 431.1 1304.3 433.2C1306.9 435.3 1309.6 437.4 1312.2 439.6C1314.9 441.7 1317.5 443.9 1320.2 446.1C1322.8 448.3 1325.4 450.5 1328 452.7C1330.6 454.9 1333.2 457.2 1335.7 459.5C1338.3 461.7 1340.8 464 1343.3 466.4C1345.8 468.7 1348.3 471.1 1350.7 473.5C1353.2 475.8 1355.6 478.3 1357.9 480.7C1360.3 483.1 1362.6 485.6 1364.9 488.1C1367.2 490.6 1369.4 493.2 1371.6 495.7C1373.8 498.3 1375.9 500.9 1378 503.6C1380.1 506.2 1382.1 508.9 1384 511.6C1386 514.3 1387.9 517 1389.7 519.8C1391.6 522.6 1393.3 525.4 1395 528.3C1396.7 531.1 1398.3 534 1399.9 537C1401.4 539.9 1402.9 542.9 1404.3 545.9C1405.6 549 1406.9 552 1408.1 555.1C1409.4 558.3 1410.5 561.4 1411.5 564.6C1412.5 567.8 1413.5 571 1414.3 574.3C1415.1 577.6 1415.9 580.8 1416.5 584.1C1417.1 587.4 1417.7 590.8 1418.1 594.1C1418.5 597.4 1418.8 600.7 1418.9 604C1419.1 607.3 1419.2 610.6 1419.1 613.9C1419 617.2 1418.8 620.4 1418.5 623.6C1418.1 626.9 1417.7 630 1417.1 633.2C1416.5 636.3 1415.7 639.4 1414.8 642.5C1413.9 645.5 1412.9 648.5 1411.7 651.4C1410.5 654.3 1409.1 657.2 1407.7 659.9C1406.2 662.7 1404.6 665.4 1402.9 668.1C1401.1 670.7 1399.2 673.3 1397.3 675.8C1395.3 678.3 1393.2 680.8 1391 683.1C1388.8 685.5 1386.5 687.8 1384.1 690C1381.7 692.3 1379.2 694.4 1376.7 696.5C1374.1 698.6 1371.4 700.6 1368.7 702.5C1366 704.4 1363.2 706.3 1360.3 708.1C1357.4 709.9 1354.5 711.6 1351.5 713.2C1348.5 714.8 1345.5 716.4 1342.4 717.8C1339.3 719.3 1336.2 720.7 1333 722C1329.9 723.3 1326.7 724.5 1323.5 725.7C1320.3 726.8 1317 727.9 1313.8 728.9C1310.5 729.9 1307.3 730.8 1304 731.6C1300.7 732.4 1297.4 733.2 1294.1 733.9C1290.8 734.6 1287.4 735.2 1284.1 735.8C1280.8 736.4 1277.4 736.9 1274.1 737.3C1270.7 737.8 1267.3 738.2 1264 738.5C1260.6 738.9 1257.2 739.2 1253.8 739.5C1250.5 739.7 1247.1 740 1243.7 740.2C1240.3 740.3 1236.9 740.5 1233.5 740.6C1230.1 740.8 1226.8 740.8 1223.4 740.9C1220 741 1216.6 741 1213.3 741.1C1209.9 741.1 1206.5 741.1 1203.2 741.1C1199.8 741.1 1196.4 741.1 1193.1 741C1189.7 741 1186.4 740.9 1183 740.8C1179.7 740.7 1176.4 740.6 1173 740.5C1169.7 740.3 1166.3 740.2 1163 740C1159.7 739.8 1156.4 739.6 1153 739.4C1149.7 739.2 1146.4 739 1143.1 738.7C1139.8 738.4 1136.5 738.2 1133.2 737.9C1129.9 737.6 1126.6 737.2 1123.3 736.9C1120 736.5 1116.7 736.2 1113.4 735.8C1110.1 735.4 1106.8 735 1103.6 734.6C1100.3 734.2 1097 733.7 1093.7 733.2C1090.4 732.8 1087.2 732.3 1083.9 731.8C1080.6 731.3 1077.4 730.7 1074.1 730.2C1070.9 729.6 1067.6 729.1 1064.4 728.5C1061.1 727.9 1057.9 727.3 1054.6 726.6C1051.4 726 1048.1 725.3 1044.9 724.6C1041.6 724 1038.4 723.3 1035.2 722.5C1031.9 721.8 1028.7 721.1 1025.5 720.3C1022.3 719.6 1019 718.8 1015.8 718C1012.6 717.2 1009.4 716.3 1006.2 715.5C1002.9 714.7 999.7 713.8 996.5 712.9C993.3 712 990.1 711.1 986.9 710.2C983.7 709.2 980.5 708.3 977.3 707.3C974.1 706.3 970.9 705.3 967.7 704.3C964.5 703.3 961.3 702.3 958.1 701.2C954.9 700.2 951.8 699.1 948.6 698C945.4 696.9 942.2 695.8 939 694.6C935.9 693.5 932.7 692.3 929.5 691.1C926.3 689.9 923.2 688.7 920 687.5" fill="none" stroke="#000" stroke-width="5.2"/>
<path d="M1018.5 324.3C1021.7 325.6 1024.9 326.9 1028.1 328.2C1031.3 329.5 1034.5 330.8 1037.7 332.1C1040.9 333.4 1044 334.7 1047.2 336C1050.4 337.3 1053.5 338.6 1056.7 339.9C1059.8 341.2 1062.9 342.5 1066 343.9C1069.1 345.2 1072.3 346.5 1075.4 347.9C1078.4 349.2 1081.5 350.5 1084.6 351.9C1087.7 353.3 1090.7 354.6 1093.8 356C1096.9 357.4 1099.9 358.8 1102.9 360.2C1106 361.6 1109 363 1112 364.4C1115 365.9 1118 367.3 1121 368.8C1123.9 370.2 1126.9 371.7 1129.9 373.2C1132.8 374.7 1135.8 376.2 1138.7 377.7C1141.7 379.2 1144.6 380.7 1147.5 382.3C1150.4 383.9 1153.3 385.4 1156.2 387C1159.1 388.6 1161.9 390.2 1164.8 391.9C1167.7 393.5 1170.5 395.2 1173.3 396.8C1176.2 398.5 1179 400.2 1181.8 402C1184.6 403.7 1187.4 405.4 1190.2 407.2C1193 409 1195.7 410.8 1198.5 412.6C1201.2 414.4 1204 416.3 1206.7 418.2C1209.4 420.1 1212.1 422 1214.8 423.9C1217.5 425.8 1220.2 427.8 1222.9 429.8C1225.6 431.8 1228.2 433.8 1230.9 435.9C1233.5 438 1236.1 440.1 1238.7 442.2C1241.4 444.3 1244 446.5 1246.5 448.7C1249.1 450.9 1251.7 453.1 1254.2 455.4C1256.8 457.6 1259.3 459.9 1261.9 462.3C1264.4 464.6 1266.9 467 1269.4 469.4C1271.9 471.8 1274.3 474.3 1276.8 476.8C1279.3 479.2 1281.7 481.8 1284.1 484.3C1286.6 486.9 1289 489.5 1291.3 492.2C1293.7 494.8 1296 497.5 1298.3 500.2C1300.6 502.9 1302.8 505.7 1305 508.5C1307.2 511.2 1309.3 514 1311.4 516.9C1313.4 519.7 1315.4 522.6 1317.3 525.5C1319.2 528.3 1321.1 531.2 1322.8 534.2C1324.5 537.1 1326.2 540.1 1327.7 543.1C1329.3 546 1330.7 549 1332 552C1333.3 555 1334.6 558.1 1335.6 561.1C1336.7 564.2 1337.7 567.2 1338.5 570.3C1339.3 573.3 1340 576.4 1340.6 579.5C1341.1 582.6 1341.5 585.7 1341.7 588.8C1341.9 591.9 1342 595 1341.9 598.1C1341.8 601.2 1341.5 604.4 1341.1 607.5C1340.6 610.6 1340 613.7 1339.1 616.8C1338.3 619.9 1337.3 623 1336 626.1C1334.8 629.2 1333.4 632.3 1331.8 635.3C1330.2 638.3 1328.4 641.3 1326.4 644.1C1324.4 646.9 1322.3 649.7 1320 652.3C1317.7 654.8 1315.3 657.3 1312.7 659.5C1310.1 661.8 1307.3 663.8 1304.5 665.6C1301.6 667.4 1298.6 669 1295.6 670.4C1292.5 671.9 1289.3 673.1 1286.1 674.3C1282.9 675.5 1279.7 676.6 1276.5 677.7C1273.2 678.7 1270 679.7 1266.7 680.7C1263.5 681.7 1260.2 682.6 1256.9 683.5C1253.6 684.4 1250.4 685.2 1247.1 686C1243.8 686.8 1240.5 687.5 1237.2 688.2C1233.8 688.9 1230.5 689.6 1227.2 690.2C1223.9 690.8 1220.5 691.4 1217.2 691.9C1213.9 692.4 1210.5 692.9 1207.2 693.3C1203.9 693.8 1200.5 694.2 1197.2 694.5C1193.8 694.9 1190.5 695.2 1187.1 695.4C1183.8 695.7 1180.4 695.9 1177.1 696.1C1173.7 696.3 1170.4 696.4 1167 696.5C1163.7 696.6 1160.3 696.6 1157 696.7C1153.6 696.7 1150.3 696.6 1147 696.6C1143.6 696.5 1140.3 696.4 1136.9 696.3C1133.6 696.1 1130.2 696 1126.9 695.8C1123.5 695.6 1120.2 695.3 1116.9 695C1113.5 694.8 1110.2 694.5 1106.8 694.1C1103.5 693.8 1100.2 693.4 1096.8 693C1093.5 692.6 1090.2 692.1 1086.8 691.7C1083.5 691.2 1080.2 690.7 1076.9 690.2C1073.5 689.7 1070.2 689.1 1066.9 688.5C1063.6 688 1060.3 687.3 1057 686.7C1053.7 686.1 1050.4 685.4 1047.1 684.7C1043.8 684.1 1040.5 683.3 1037.2 682.6C1033.9 681.9 1030.6 681.1 1027.3 680.3C1024 679.6 1020.7 678.8 1017.5 678C1014.2 677.1 1010.9 676.3 1007.7 675.4C1004.4 674.6 1001.1 673.7 997.9 672.8C994.6 671.9 991.4 671 988.1 670.1C984.9 669.1 981.7 668.2 978.4 667.2C975.2 666.2 972 665.3 968.8 664.3C965.5 663.3 962.3 662.3 959.1 661.3C955.9 660.2 952.7 659.2 949.5 658.2C946.4 657.1 943.2 656.1 940 655" fill="none" stroke="#000" stroke-width="5.2"/>
<path d="M1247.5 353.8C1256.7 349.5 1265.9 343.8 1275 341C1283.4 338.4 1291.7 337.2 1300 337C1308.3 336.8 1314.5 338.5 1325 340C1343.3 342.6 1384.8 347.5 1400 352.5C1407.2 354.8 1410.8 356.6 1415 360C1419.1 363.3 1423.2 367.8 1425 372.5C1426.8 377 1426.2 380.4 1426 387.5C1425.5 404.9 1418.7 447.5 1415 477.5" fill="none" stroke="#000" stroke-width="5.2"/>
<path d="M1275 367.5L1327 346.5" fill="none" stroke="#000" stroke-width="5.2"/>
<path d="M1314.5 392.5C1321.3 387.9 1328.4 380.8 1335 378.8C1340.1 377.2 1344.4 378.3 1350 378.8C1357.3 379.3 1368.2 380.4 1375 382.5C1380 384.1 1384.6 385.7 1387.5 388.8C1390.3 391.6 1391.9 396.1 1392.5 400C1393.1 404 1392 407.3 1391 412.5C1389.2 421.5 1384.3 436.8 1381 449" fill="none" stroke="#000" stroke-width="5.2"/>
<path d="M1340 380C1343.3 382.5 1347.9 384.2 1350 387.5C1352.1 390.8 1352.6 395.4 1352.5 400C1352.3 405.6 1349.2 412.5 1347.5 418.8" fill="none" stroke="#000" stroke-width="5.2"/>
<path d="M897.8 967C897.6 973 897.5 979.7 897.3 985C897.2 989.1 896.8 993 896.9 996C897 998.1 896.7 999.6 897.5 1001.2C898.4 1003.1 900.4 1004.6 902.5 1006.2C905.3 1008.5 909.1 1010.8 913 1013C917.6 1015.6 923.3 1017.9 928.8 1020.6C934.7 1023.5 941.9 1027.3 947.5 1030C952.1 1032.2 955.1 1033.5 960 1035.6C966.9 1038.6 977.2 1043 985 1046C991.7 1048.5 997.8 1050.1 1003.8 1052.5C1009.4 1054.8 1015.5 1056.8 1020 1060C1024 1062.8 1027.5 1066.1 1030 1070C1032.5 1074 1033.9 1078.6 1035 1083.8C1036.3 1090 1035.9 1096.6 1036.2 1105C1036.8 1117.2 1036.8 1134.6 1037.5 1150C1038.2 1166.2 1039.8 1183.3 1040.6 1200C1041.4 1216.7 1042.9 1236.2 1042.5 1250C1042.2 1259.8 1042.1 1267.4 1040 1275C1038.1 1281.9 1035 1288.1 1031 1293.8C1027 1299.4 1021.5 1304.4 1016 1308.8C1010.4 1313.2 1004.3 1316.8 997.5 1320C990 1323.6 979.5 1327 972.5 1328.8C967.7 1329.9 964.2 1330.6 960 1330.6C955.8 1330.6 951.6 1330 947.5 1328.8C943.2 1327.4 939 1325.2 935 1322.5C930.5 1319.5 925.8 1315.3 922 1311C918.3 1306.8 915.7 1301.7 912.5 1297" fill="none" stroke="#000" stroke-width="5.2"/>
<path d="M914.7 971.5L913.8 1012.5" fill="none" stroke="#000" stroke-width="5.2"/>
<path d="M991 1049.5C995.3 1051.8 999.6 1053.7 1003.8 1056.2C1008 1058.9 1013 1061.4 1016.2 1065C1019.4 1068.5 1021.5 1073 1023 1077.5C1024.5 1082.1 1024.4 1085.9 1025 1092.5C1026.1 1105.4 1026.1 1131.5 1027 1150C1027.8 1167.3 1029.2 1183.3 1030 1200C1030.8 1216.7 1032.2 1237.3 1032 1250C1031.9 1257.8 1032 1262.8 1030.6 1268.8C1029.2 1274.5 1027 1280 1023.8 1285C1020.3 1290.4 1015.3 1295.7 1010 1300C1004.5 1304.4 997.9 1307.8 991 1311C983.4 1314.5 972.9 1317.9 966 1320C961.2 1321.4 957.9 1322.9 953.8 1323C949.6 1323.1 945.1 1322.2 941 1320.6C936.7 1318.9 932.7 1315.7 928.8 1312.5C924.4 1309 919.6 1304.4 916 1300C912.7 1296 909.6 1291.8 907.5 1287.5C905.6 1283.5 904.7 1279.7 903.8 1275C902.7 1269.4 901.9 1261.8 902 1256C902.1 1251.1 904.4 1246.7 903.8 1242.5C903.2 1238.4 900 1235.2 898.8 1231C897.3 1226.2 895.9 1219.7 896 1215C896.1 1211.3 898.1 1208.1 898 1205C897.9 1202.3 896.6 1200.5 896 1197.5C895.1 1193.1 893.6 1185.9 893.8 1181C893.9 1177 896.2 1173.5 896 1170C895.8 1166.6 893.3 1163.4 892.5 1160C891.7 1156.7 891 1153.1 891 1150C891 1147.3 891.3 1145 892 1142.5C892.8 1139.6 896.1 1136.4 896 1133.8C895.9 1131.5 893.5 1130 892.5 1127.5C891.2 1124.1 889.6 1119 889.4 1115C889.3 1111.5 890 1108 891 1105C891.9 1102.2 894.9 1100.1 895 1097.5C895.1 1094.7 892 1091.9 891 1088.8C889.9 1085.3 888.8 1081.3 888.8 1077.5C888.7 1073.7 889.5 1069.4 891 1066C892.4 1062.8 895.9 1060.8 897 1057.5C898.2 1053.9 898.5 1048.1 897.5 1045C896.8 1042.8 894.8 1041.8 893.8 1040C892.7 1038.1 891.9 1036.1 891.2 1033.8C890.5 1031 889.9 1027.2 890 1024.4C890.1 1022.1 890.3 1019.8 891.2 1018C892.2 1016.3 894.7 1015.6 895.6 1013.8C896.7 1011.7 896.5 1008.8 896.9 1006.2" fill="none" stroke="#000" stroke-width="5.2"/>
<path d="M896 1043.8C904.8 1048.8 912.8 1053.9 922.5 1058.8C933.8 1064.4 948.1 1070 960 1075C970.8 1079.5 985.3 1083.7 991 1087.5C993.6 1089.2 995.2 1090.5 996 1092.5C996.8 1094.6 996.7 1098.2 995.6 1100C994.6 1101.6 992.7 1102.4 990 1103C984.1 1104.3 969.5 1102.3 960 1101C951.2 1099.8 943.2 1098.4 935 1096C926.5 1093.5 917 1090.1 910 1086C904.1 1082.5 898.2 1077.7 895 1073.8C892.9 1071.1 892.3 1068.6 891 1066" fill="none" stroke="#000" stroke-width="5.2"/>
<path d="M895 1098.8C902 1102.5 908.1 1106.8 916 1110C925.3 1113.7 936.4 1116.8 947.5 1118.8C959.4 1120.9 977.5 1121.5 985 1121.9C988.3 1122.1 990 1121.2 992 1122C994 1122.8 996.2 1124.5 997 1126.5C998 1128.9 997.8 1133.6 996.5 1136C995.3 1138.2 993.2 1139.6 990 1140.6C983.8 1142.6 969.5 1141.5 960 1140.6C951.2 1139.8 943.2 1138.4 935 1136C926.5 1133.6 917.1 1129.9 910 1126C904.1 1122.7 898.5 1118.5 895 1115C892.6 1112.6 891.7 1110.3 890 1108" fill="none" stroke="#000" stroke-width="5.2"/>
<path d="M896 1135C902.7 1138.7 908.4 1142.9 916 1146C925.1 1149.8 936.4 1153 947.5 1155C959.4 1157.1 977.3 1157.7 985 1158C988.5 1158.1 990.4 1157.2 992.5 1158C994.5 1158.8 996.7 1160.5 997.5 1162.5C998.4 1164.7 998.2 1168.8 997 1171C995.9 1173.1 994 1174.5 991 1175.6C984.9 1177.8 969.8 1177 960 1176.5C951.2 1176 943.2 1175.1 935 1173C926.6 1170.9 916.7 1167.5 910 1163.8C904.8 1160.8 900.7 1157.1 897.5 1153.8C895.1 1151.2 893.8 1148.6 892 1146" fill="none" stroke="#000" stroke-width="5.2"/>
<path d="M896 1171C900.7 1174.8 904.3 1179.3 910 1182.5C916.9 1186.3 926.6 1189.1 935 1191C943.2 1192.9 951.1 1193.5 960 1194C970.1 1194.6 986.2 1190.8 992.5 1194C996.1 1195.8 998.7 1199.6 998.8 1202.5C998.8 1205.6 996.2 1210 992.5 1212C986.3 1215.4 970.1 1213.2 960 1212.5C951.1 1211.9 943.2 1211 935 1208.8C926.5 1206.5 916.4 1202.7 910 1198.8C905.2 1195.8 901.5 1192.1 898.8 1188.8C896.6 1186.2 895.6 1183.6 894 1181" fill="none" stroke="#000" stroke-width="5.2"/>
<path d="M897.5 1207.5C901.7 1210.8 904.8 1214.6 910 1217.5C916.7 1221.3 926.5 1224.8 935 1227C943.2 1229.1 951 1230 960 1230.6C970.5 1231.4 987.9 1227.4 994.4 1230.6C997.9 1232.4 1000.6 1236 1000.6 1238.8C1000.6 1241.6 998 1245.6 994.4 1247.5C987.9 1250.9 970.5 1248.5 960 1247.5C951 1246.6 943.2 1245.2 935 1242.5C926.5 1239.7 916.1 1235.5 910 1231C905.5 1227.7 902.3 1223.4 900 1220C898.3 1217.5 897.7 1215.3 896.5 1213" fill="none" stroke="#000" stroke-width="5.2"/>
<path d="M903.8 1245C907.8 1248.3 911.2 1252.2 916 1255C921.4 1258.2 928.1 1260.8 935 1262.5C942.6 1264.4 951.7 1264.7 960 1265C968.3 1265.3 978.3 1265.1 985 1264.6C989.5 1264.2 993.4 1262.6 996.2 1263C998.1 1263.3 1000 1263.9 1000.6 1265C1001.3 1266.2 1001 1268.3 1000 1270C998 1273.2 990.5 1277.4 985 1280C979.2 1282.8 972.3 1284.4 966 1286C959.8 1287.5 953.7 1289.4 947.5 1289.4C941.3 1289.4 934.6 1288 928.8 1286C923 1284 916.4 1280.9 912.5 1277.5C909.5 1274.9 907.7 1271.8 906 1268.8C904.4 1265.9 903.7 1262.9 902.5 1260" fill="none" stroke="#000" stroke-width="5.2"/>
<path d="M914 1300C914.3 1303.7 915.4 1307 915 1311C914.5 1316 911.6 1322.5 910 1327.5C908.6 1331.6 906.2 1335 906 1338.8C905.8 1342.5 907.7 1346.3 908.8 1350C909.8 1353.7 910.8 1357.3 912.5 1361C914.4 1365.2 917 1369.8 920 1373.8C923.1 1377.8 926.6 1381.5 931 1385C936.2 1389.1 943.1 1392.8 950 1396C957.6 1399.5 966.5 1403.1 975 1405C983.2 1406.9 990.2 1407.6 1000 1407.5C1013.8 1407.3 1033.6 1405.1 1050 1401C1066.9 1396.7 1086.6 1389.2 1100 1382C1110.2 1376.5 1118.1 1370.6 1125 1364C1131.1 1358.1 1135 1351.3 1140 1345" fill="none" stroke="#000" stroke-width="5.2"/>
<path d="M930 1321C929.6 1328.2 929.9 1335.7 928.8 1342.5C927.7 1349 924.5 1355.4 923.8 1361C923.1 1365.6 923.8 1369.5 923.8 1373.8" fill="none" stroke="#000" stroke-width="5.2"/>
<path d="M907.5 1338.8C910 1342.5 912.1 1346.5 915 1350C917.9 1353.6 920.9 1356.9 925 1360C930.1 1363.7 937.4 1367.3 943.8 1370C949.9 1372.6 956.2 1374.4 962.5 1376C968.6 1377.5 974.8 1378.6 981 1379.4C987.3 1380.2 992.2 1380.8 1000 1380.6C1012.7 1380.3 1033.5 1378.4 1050 1375C1066.8 1371.6 1086.4 1365.4 1100 1360C1110 1356 1118.2 1352.3 1125 1347.5C1130.7 1343.5 1134.3 1338.5 1139 1334" fill="none" stroke="#000" stroke-width="5.2"/>
<path d="M1187.5 791.2C1181.1 796.2 1174.4 800.7 1168.4 806.1C1162.4 811.4 1156.8 817.2 1151.7 823.3C1146.5 829.5 1142.1 836.4 1137.7 843.1C1133.3 849.8 1129.1 856.7 1125.3 863.8C1121.5 870.9 1117.9 878.1 1114.7 885.5C1111.5 892.9 1108.9 900.5 1106.3 908.1C1103.7 915.7 1101.3 923.4 1099.1 931.2C1096.8 938.9 1094.4 946.6 1092.8 954.5C1091.2 962.4 1089.7 970.4 1089.3 978.3C1088.9 986.3 1089.6 994.5 1090.5 1002.4C1091.4 1010.4 1093.1 1018.3 1094.6 1026.2C1096.1 1034.2 1097.9 1042 1099.6 1049.9C1101.2 1057.8 1102.9 1065.6 1104.3 1073.6C1105.7 1081.5 1107.1 1089.4 1108.1 1097.4C1109.1 1105.4 1109.8 1113.4 1110.4 1121.4C1110.9 1129.5 1111.2 1137.5 1111.6 1145.6C1111.9 1153.6 1112.3 1161.7 1112.5 1169.7C1112.6 1177.7 1112.6 1185.8 1112.4 1193.8C1112.2 1201.9 1111.8 1209.9 1111.3 1218C1110.7 1226 1109.6 1236.1 1108.9 1242C1108.6 1245.4 1108.2 1247.4 1108 1250C1107.9 1252.5 1107.9 1254.7 1108 1257.5C1108.1 1261.1 1107.5 1266.4 1108.8 1270C1109.9 1273.4 1112.2 1277.2 1115 1278.8C1117.7 1280.2 1122.1 1280.4 1125 1279.4C1127.9 1278.4 1130.7 1275.4 1132.5 1272.5C1134.5 1269.4 1134.8 1264.8 1136 1261" fill="none" stroke="#000" stroke-width="5.2"/>
<path d="M1136 1261C1137 1262 1138.1 1262.6 1139 1264C1140.3 1266 1141.3 1268.8 1142 1272.5C1143.2 1279 1142.4 1290.1 1142.5 1300C1142.6 1311.5 1142.5 1325 1142.5 1337.5" fill="none" stroke="#000" stroke-width="5.2"/>
<ellipse cx="1126" cy="1311" rx="5.5" ry="8.5" fill="none"/>
<path d="M1126 1313C1130.4 1319.6 1135.5 1325.9 1139.1 1332.9C1142.7 1339.9 1146.3 1347.5 1147.7 1355.1C1149 1362.7 1149.2 1371.3 1147.2 1378.7C1145.3 1386.1 1140.8 1393.4 1135.9 1399.4C1131.1 1405.5 1124.5 1410.6 1118 1415.1C1111.6 1419.6 1104.2 1423 1097.1 1426.5C1090 1429.9 1082.6 1433 1075.2 1435.9C1067.9 1438.8 1060.4 1441.6 1052.9 1444.1C1045.3 1446.5 1037.7 1448.7 1030 1450.7C1022.3 1452.7 1014.5 1454.4 1006.8 1456.1C999 1457.7 991.2 1459.2 983.4 1460.6C975.6 1462 967.7 1463.2 959.9 1464.4C952 1465.7 944.2 1467 936.4 1468.3C928.5 1469.6 920.7 1470.9 912.8 1472.1C905 1473.3 897.1 1474.4 889.3 1475.4C881.4 1476.5 873.5 1477.4 865.6 1478.3C857.7 1479.2 847.7 1480.2 841.9 1480.8C838.6 1481.1 836.6 1481.3 834 1481.5" fill="none" stroke="#000" stroke-width="5.2"/>
<path d="M833.8 1442.5C839.2 1440.8 845.2 1440.1 850 1437.5C854.7 1435 859 1431.3 862.5 1427.5C865.9 1423.8 868.7 1420 871 1415C873.9 1408.8 875.6 1400 877.5 1392.5C879.4 1385 880.4 1376.7 882.5 1370C884.3 1364.4 885.8 1358.7 888.8 1355C891.1 1352 894.3 1349.9 897.5 1348.8C900.6 1347.6 904.2 1348.2 907.5 1348" fill="none" stroke="#000" stroke-width="5.2"/>
<path d="M1221.2 793.8C1220.6 796.3 1220.5 799.1 1219.4 801.2C1218.4 803.2 1215.6 804.3 1215 806.2C1214.4 808.2 1216.3 810.5 1215.6 813C1214.4 816.9 1208.6 824 1205 826.2C1202.5 827.8 1199.8 828.3 1197.5 828C1195.5 827.7 1192.6 826.4 1192 825C1191.5 823.7 1192.5 821.1 1193.5 820C1194.5 819 1196.6 818.3 1198 818.5C1199.4 818.7 1201.5 819.8 1202 821C1202.5 822.3 1201.9 824.8 1201 826C1200 827.3 1197.8 827.9 1196 828.5C1194.1 829.1 1191.1 828.2 1190 829.5C1188.8 830.9 1191.1 834.5 1190 837.5C1188 842.8 1178.6 853.3 1173.8 856.2C1171 857.9 1167.8 858.8 1166 858C1164.4 857.3 1162.9 854.7 1163 853C1163.1 851.2 1165.4 848.1 1167 847.5C1168.4 847 1171.2 847.8 1172 849C1172.8 850.2 1172.6 853.5 1171.5 855C1170.2 856.8 1166.7 857.5 1164 858.5C1161 859.6 1155.8 859.6 1154 861C1153 861.8 1152.3 863 1152.5 864C1152.9 865.6 1157.9 866.7 1158.8 868.8C1159.6 870.8 1158.6 873.2 1157.5 876.2C1155.5 881.9 1149.5 896.7 1145 898.8C1142.4 899.9 1139.5 897.2 1137 897C1134.9 896.9 1132.6 896.5 1131 897.5C1129.2 898.6 1128 901.4 1127 904C1125.8 907.1 1124.6 912 1125 915C1125.3 917.2 1125.9 919.3 1127.5 920.5C1129.6 922.1 1136.1 919.7 1137.5 922C1139.9 926 1132.6 945.7 1128 950C1125.4 952.4 1122 951.7 1119 952.5" fill="none" stroke="#000" stroke-width="5.2"/>
<path d="M1135 902C1134 905 1131.9 908.3 1132 911C1132.1 913.2 1133.6 915.1 1134.5 917C1135.4 918.8 1136.5 920.3 1137.5 922" fill="none" stroke="#000" stroke-width="3"/>
<path d="M1221.2 795C1222.5 797 1223.3 800.1 1225 801C1226.6 801.8 1229 801.1 1231 800.5C1233.2 799.8 1235.9 797.9 1237.5 796.5C1238.6 795.5 1239.2 794.5 1240 793.5" fill="none" stroke="#000" stroke-width="4"/>
<path d="M1119 952.5C1118.2 954.3 1117.1 955.5 1116.5 958C1115.4 962.4 1113 974.8 1115 977.5C1116 978.9 1118.5 979.5 1120 978.8C1122.5 977.6 1125.8 970 1126.2 966C1126.6 962.6 1125.3 958.6 1123.8 956.2C1122.6 954.4 1120.6 953.7 1119 952.5" fill="none" stroke="#000" stroke-width="5.2"/>
<path d="M1123.8 956.2C1125 960 1126.7 963.3 1127.5 967.5C1128.5 972.4 1129.1 978.5 1128.8 983.8C1128.4 988.9 1126.6 993.8 1125.5 998.8" fill="none" stroke="#000" stroke-width="5.2"/>
<path d="M1125.5 998.8C1123.7 1002.5 1120.7 1005.8 1120 1010C1119.2 1014.7 1120.3 1025.2 1122 1025.5C1123.7 1025.8 1129.5 1016.6 1130 1012C1130.5 1007.7 1127 1003.2 1125.5 998.8" fill="none" stroke="#000" stroke-width="5.2"/>
<path d="M1125.5 998.8C1127.3 1001.4 1129.4 1003.7 1131 1006.8C1132.8 1010.2 1134.7 1014.8 1135.5 1018.8C1136.3 1022.4 1136.6 1026.3 1136 1029.8C1135.5 1033 1133.7 1035.7 1132.5 1038.8" fill="none" stroke="#000" stroke-width="5.2"/>
<path d="M1132.5 1038.8C1130.3 1042.2 1126.5 1045.3 1126 1049C1125.5 1052.9 1128.2 1061.3 1130 1061.5C1131.9 1061.7 1137.3 1053 1137.5 1049C1137.7 1045.5 1134.2 1042.2 1132.5 1038.8" fill="none" stroke="#000" stroke-width="5.2"/>
<path d="M1132.5 1038.8C1134.3 1041.4 1136.5 1043.7 1138 1046.8C1139.7 1050.1 1141.4 1054.4 1142.1 1058.1C1142.8 1061.6 1142.8 1065.2 1142.2 1068.5C1141.7 1071.7 1139.9 1074.5 1138.8 1077.5" fill="none" stroke="#000" stroke-width="5.2"/>
<path d="M1138.8 1077.5C1136 1080.3 1131.3 1082.6 1130.5 1086C1129.7 1089.7 1133 1098.8 1135 1099C1137 1099.2 1142.1 1090.9 1142.5 1087C1142.8 1083.7 1140 1080.7 1138.8 1077.5" fill="none" stroke="#000" stroke-width="5.2"/>
<path d="M1138.8 1077.5C1140.6 1080.2 1142.8 1082.5 1144.2 1085.5C1145.8 1088.7 1147.3 1092.7 1147.8 1096.2C1148.2 1099.5 1147.9 1102.9 1147.2 1106C1146.6 1109.1 1144.9 1112 1143.8 1115" fill="none" stroke="#000" stroke-width="5.2"/>
<path d="M1143.8 1115C1140.8 1117.7 1136 1119.6 1135 1123C1133.9 1126.7 1136.9 1136.2 1138.8 1136.5C1140.6 1136.8 1145.3 1128.8 1146 1125C1146.6 1121.7 1144.5 1118.3 1143.8 1115" fill="none" stroke="#000" stroke-width="5.2"/>
<path d="M1143.8 1115C1145.6 1117.7 1148.2 1120 1149.2 1123C1150.3 1126.2 1150.4 1130.3 1149.9 1133.8C1149.4 1137.1 1147.7 1140.3 1146.5 1143.5C1145.4 1146.6 1144.2 1149.5 1143 1152.5" fill="none" stroke="#000" stroke-width="5.2"/>
<path d="M1143 1152.5C1140.7 1156.2 1136.6 1160 1136 1163.8C1135.5 1167.1 1137.3 1173.8 1138.8 1174C1140.4 1174.2 1145.5 1165.9 1146 1162C1146.4 1158.7 1144 1155.7 1143 1152.5" fill="none" stroke="#000" stroke-width="5.2"/>
<path d="M1143 1152.5C1144.8 1155.2 1147.5 1157.4 1148.5 1160.5C1149.6 1163.8 1149.3 1168.1 1148.8 1171.8C1148.2 1175.3 1146.2 1178.7 1145 1182C1143.8 1185.1 1142.7 1188 1141.5 1191" fill="none" stroke="#000" stroke-width="5.2"/>
<path d="M1141.5 1191C1139.5 1194.8 1135.9 1198.7 1135.5 1202.5C1135.1 1206 1137.1 1212.8 1138.5 1213C1140.1 1213.2 1144.7 1204.9 1145 1201C1145.3 1197.6 1142.7 1194.3 1141.5 1191" fill="none" stroke="#000" stroke-width="5.2"/>
<path d="M1141.5 1191C1143.3 1193.7 1146.1 1196 1147 1199C1147.9 1202.2 1147.4 1206.5 1146.6 1210C1145.8 1213.5 1143.6 1216.7 1142.2 1220C1141 1223.1 1139.9 1226 1138.8 1229" fill="none" stroke="#000" stroke-width="5.2"/>
<path d="M1138.8 1229C1136.7 1232.7 1132.9 1236.4 1132.5 1240C1132.1 1243.1 1133.7 1248.8 1135 1249C1136.5 1249.2 1141.1 1241.6 1141.5 1238C1141.9 1234.9 1139.7 1232 1138.8 1229" fill="none" stroke="#000" stroke-width="5.2"/>
<path d="M1138.8 1229C1140.6 1231.7 1143.4 1234.1 1144.2 1237C1145.1 1239.7 1144.8 1242.8 1144.1 1245.5C1143.4 1248.2 1141.2 1250.3 1140 1253C1138.7 1255.8 1137.7 1259 1136.5 1262" fill="none" stroke="#000" stroke-width="5.2"/>
<path d="M824 1451C821 1449.5 818.7 1448.4 815 1446.5C808.7 1443.2 798.5 1436.8 790 1433C781.8 1429.3 773.4 1426 765 1424C756.8 1422.1 747.8 1421.4 740 1421C733.2 1420.6 727.2 1420.5 721 1421.3C714.7 1422.1 707.8 1423.4 702.5 1426C697.7 1428.3 693.4 1431.6 690 1435.5C686.5 1439.5 683.5 1445.1 682 1450C680.6 1454.5 680.5 1459.1 680.6 1463.8C680.7 1468.7 681.1 1474.1 683 1478.8C685 1483.7 688.7 1488.7 692.5 1492.5C696.1 1496.1 700.4 1499.1 705 1501C709.8 1503 715.4 1503.5 721 1504C727 1504.5 733.3 1504.4 740 1503.8C747.8 1503 756.7 1501.1 765 1499C773.4 1496.9 781.7 1494 790 1491C798.4 1487.9 808.8 1483.3 815 1480.6C818.8 1479 821 1477.9 824 1476.5" fill="none" stroke="#000" stroke-width="20" stroke-linecap="butt"/>
<path d="M824 1451C821 1449.5 818.7 1448.4 815 1446.5C808.7 1443.2 798.5 1436.8 790 1433C781.8 1429.3 773.4 1426 765 1424C756.8 1422.1 747.8 1421.4 740 1421C733.2 1420.6 727.2 1420.5 721 1421.3C714.7 1422.1 707.8 1423.4 702.5 1426C697.7 1428.3 693.4 1431.6 690 1435.5C686.5 1439.5 683.5 1445.1 682 1450C680.6 1454.5 680.5 1459.1 680.6 1463.8C680.7 1468.7 681.1 1474.1 683 1478.8C685 1483.7 688.7 1488.7 692.5 1492.5C696.1 1496.1 700.4 1499.1 705 1501C709.8 1503 715.4 1503.5 721 1504C727 1504.5 733.3 1504.4 740 1503.8C747.8 1503 756.7 1501.1 765 1499C773.4 1496.9 781.7 1494 790 1491C798.4 1487.9 808.8 1483.3 815 1480.6C818.8 1479 821 1477.9 824 1476.5" fill="none" stroke="#636363" stroke-width="10" stroke-linecap="butt"/>
<rect x="815" y="1450" width="19" height="12" fill="#000" stroke="none"/>
<rect x="817.5" y="1445" width="13.75" height="7.5" fill="#636363" stroke="#000" stroke-width="5"/>
<rect x="816.25" y="1460.5" width="15.6" height="23.25" fill="#636363" stroke="#000" stroke-width="5"/>
</g>
<g stroke="#f26a21" stroke-width="3.6" stroke-linecap="round" fill="none">
<path d="M379 432.5H619"/><path d="M660 864H797"/><path d="M492.5 1456.5H629"/>
</g>
<g fill="#f26a21"><circle cx="619.4" cy="432.7" r="9.4"/><circle cx="796.9" cy="864" r="9.4"/><circle cx="628.9" cy="1456.5" r="9.4"/></g>
<g font-size="47.5" stroke="#000" stroke-width="1.45" stroke-linejoin="round">
<text transform="translate(118.5,439.5) scale(0.87,1)" textLength="262.6" lengthAdjust="spacing">LED CREE</text>
<text x="399" y="843.5" textLength="255.5" lengthAdjust="spacing">Interruptor</text>
<text x="418" y="894" textLength="211" lengthAdjust="spacing">de gatillo</text>
<text x="230" y="1435.5" textLength="223.5" lengthAdjust="spacing">Sujetador</text>
<text x="218.5" y="1488.5" textLength="247.5" lengthAdjust="spacing">de muñeca</text>
</g>

</svg>
</body></html>
